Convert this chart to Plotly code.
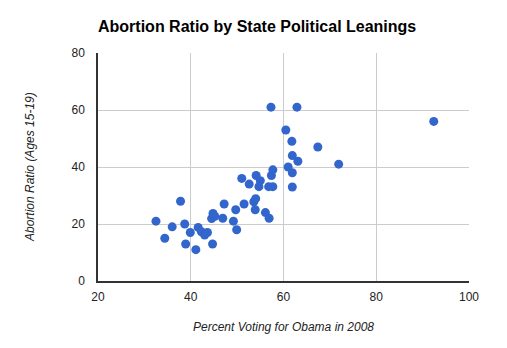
import plotly.graph_objects as go

# Percent of vote for Obama in 2008, by state
obama_pct = [32.5, 34.4, 36.0, 37.8, 38.7, 38.9, 39.9, 41.1, 41.6, 42.3,
             43.0, 43.6, 44.7, 44.8, 44.5, 45.2, 46.9, 47.2, 49.2, 49.7,
             49.9, 51.0, 51.5, 52.6, 53.6, 54.0, 53.9, 54.1, 55.0, 54.7,
             56.1, 56.9, 56.8, 57.7, 57.4, 57.7, 57.3, 62.9, 60.5, 61.8,
             67.4, 61.9, 63.1, 71.9, 61.0, 61.9, 92.4, 61.9]

# Abortion ratio among women aged 15-19, by state
abortion_ratio = [21, 15, 19, 28, 20, 13, 17, 11, 18.8, 17.3,
                  16.1, 17, 13, 23.7, 21.9, 22.7, 22, 27, 21, 25,
                  18, 36, 27, 34, 27.8, 28.9, 25, 37, 35.2, 33.1,
                  24, 22, 33.1, 33.1, 37, 39, 61, 61, 53, 49,
                  47, 44, 42, 41, 40, 38, 56, 33]

x_ticks = [20, 40, 60, 80, 100]
y_ticks = [0, 20, 40, 60, 80]

font_family = "Liberation Sans, Arial, sans-serif"

fig = go.Figure(
    go.Scatter(
        x=obama_pct,
        y=abortion_ratio,
        mode="markers",
        marker=dict(color="#3366cc", size=9, line=dict(width=0)),
        hoverinfo="x+y",
    )
)

fig.update_layout(
    width=507,
    height=348,
    margin=dict(l=98, r=38, t=53, b=67),
    paper_bgcolor="white",
    plot_bgcolor="white",
    showlegend=False,
    font=dict(family=font_family, size=12, color="#222222"),
    title=dict(
        text="<b>Abortion Ratio by State Political Leanings</b>",
        x=98 / 507,
        xanchor="left",
        xref="container",
        y=1 - 26.5 / 348,
        yref="container",
        yanchor="middle",
        font=dict(family=font_family, size=16, color="#000000"),
    ),
    xaxis=dict(
        range=[20, 100],
        tickvals=x_ticks,
        ticktext=[str(v) for v in x_ticks],
        showgrid=True,
        gridcolor="#cccccc",
        gridwidth=1,
        zeroline=False,
        showline=True,
        linecolor="#333333",
        linewidth=1.5,
        ticks="",
        ticklabelstandoff=4,
        tickfont=dict(size=12, color="#222222"),
        fixedrange=True,
    ),
    yaxis=dict(
        range=[0, 80],
        tickvals=y_ticks,
        ticktext=[str(v) for v in y_ticks],
        showgrid=True,
        gridcolor="#cccccc",
        gridwidth=1,
        zeroline=False,
        showline=True,
        linecolor="#333333",
        linewidth=1.5,
        ticks="",
        ticklabelstandoff=9,
        tickfont=dict(size=12, color="#222222"),
        fixedrange=True,
    ),
    annotations=[
        dict(
            text="<i>Percent Voting for Obama in 2008</i>",
            xref="paper", yref="paper",
            x=0.5, y=0,
            xanchor="center", yanchor="middle",
            yshift=-46,
            showarrow=False,
            font=dict(family=font_family, size=12, color="#222222"),
        ),
        dict(
            text="<i>Abortion Ratio (Ages 15-19)</i>",
            xref="paper", yref="paper",
            x=0, y=0.5,
            xanchor="center", yanchor="middle",
            xshift=-68,
            textangle=-90,
            showarrow=False,
            font=dict(family=font_family, size=12, color="#222222"),
        ),
    ],
)

fig.write_html("out.html")
